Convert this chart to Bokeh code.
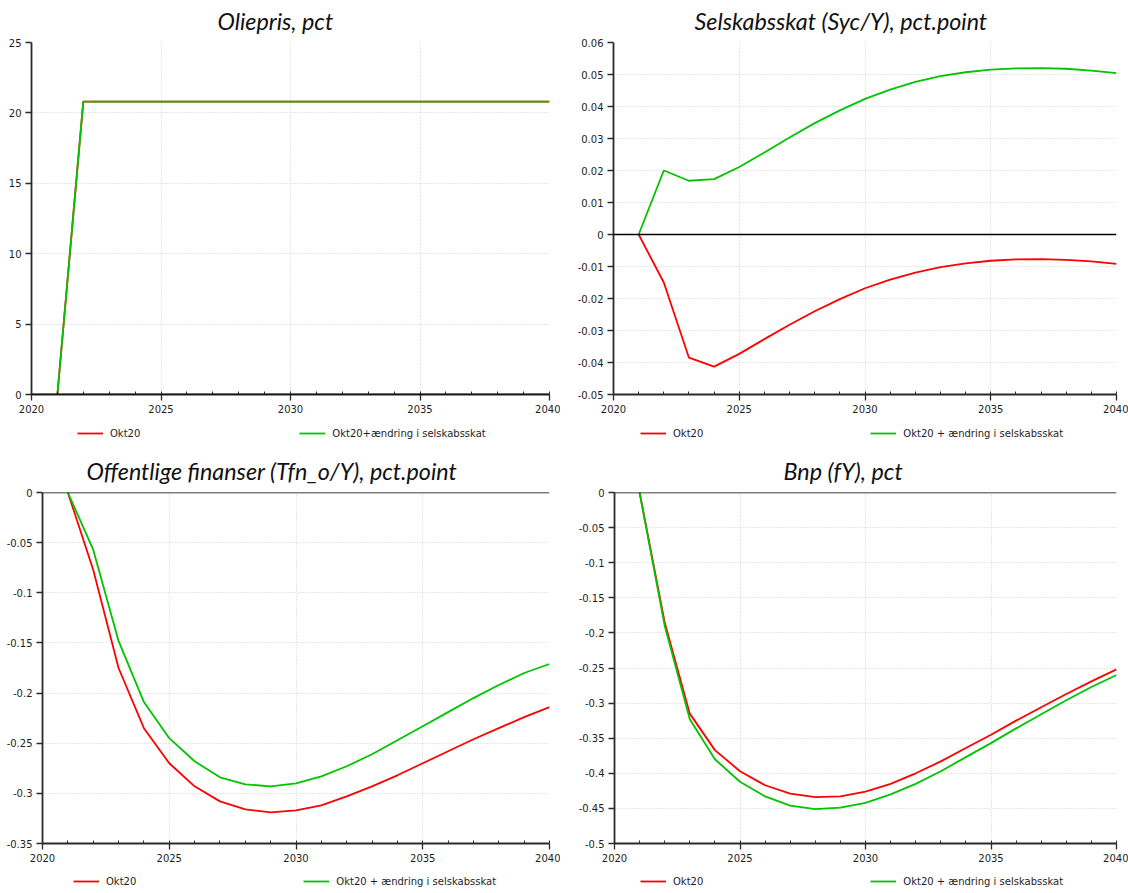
from bokeh.plotting import figure
from bokeh.layouts import column, row
from bokeh.models import FixedTicker, Span, Legend, LegendItem, CustomJSTickFormatter, Range1d
from bokeh.embed import file_html
from bokeh.resources import INLINE

years = [2021, 2022, 2023, 2024, 2025, 2026, 2027, 2028, 2029, 2030,
         2031, 2032, 2033, 2034, 2035, 2036, 2037, 2038, 2039, 2040]

# Oliepris, pct
oil_okt20 = [0, 20.8, 20.8, 20.8, 20.8, 20.8, 20.8, 20.8, 20.8, 20.8,
             20.8, 20.8, 20.8, 20.8, 20.8, 20.8, 20.8, 20.8, 20.8, 20.8]
oil_alt = [0, 20.8, 20.8, 20.8, 20.8, 20.8, 20.8, 20.8, 20.8, 20.8,
           20.8, 20.8, 20.8, 20.8, 20.8, 20.8, 20.8, 20.8, 20.8, 20.8]

# Selskabsskat (Syc/Y), pct.point
syc_okt20 = [0, -0.015, -0.0385, -0.0413, -0.0373, -0.0327, -0.0282, -0.0240, -0.0202, -0.0168,
             -0.0141, -0.0119, -0.0102, -0.0090, -0.0082, -0.0078, -0.0077, -0.0079, -0.0084, -0.0092]
syc_alt = [0, 0.0200, 0.0168, 0.0173, 0.0211, 0.0256, 0.0303, 0.0348, 0.0388, 0.0424,
           0.0453, 0.0477, 0.0495, 0.0507, 0.0515, 0.0519, 0.0520, 0.0518, 0.0512, 0.0504]

# Offentlige finanser (Tfn_o/Y), pct.point
tfn_okt20 = [0, -0.077, -0.175, -0.235, -0.270, -0.293, -0.308, -0.316, -0.319, -0.317,
             -0.312, -0.303, -0.293, -0.282, -0.270, -0.258, -0.246, -0.235, -0.224, -0.214]
tfn_alt = [0, -0.057, -0.148, -0.209, -0.245, -0.268, -0.284, -0.291, -0.293, -0.290,
           -0.283, -0.273, -0.261, -0.247, -0.233, -0.219, -0.205, -0.192, -0.180, -0.171]

# Bnp (fY), pct
bnp_okt20 = [0, -0.185, -0.315, -0.367, -0.397, -0.417, -0.429, -0.434, -0.433, -0.426,
             -0.415, -0.400, -0.383, -0.364, -0.345, -0.325, -0.306, -0.287, -0.269, -0.252]
bnp_alt = [0, -0.190, -0.323, -0.380, -0.412, -0.433, -0.446, -0.451, -0.449, -0.442,
           -0.430, -0.415, -0.397, -0.377, -0.357, -0.336, -0.316, -0.296, -0.277, -0.260]

x_major = [2020, 2025, 2030, 2035, 2040]
x_minor = [2020, 2021, 2022, 2023, 2024, 2025, 2026, 2027, 2028, 2029, 2030,
           2031, 2032, 2033, 2034, 2035, 2036, 2037, 2038, 2039, 2040]

y_oil = [0, 5, 10, 15, 20, 25]
y_syc = [-0.05, -0.04, -0.03, -0.02, -0.01, 0, 0.01, 0.02, 0.03, 0.04, 0.05, 0.06]
y_tfn = [-0.35, -0.3, -0.25, -0.2, -0.15, -0.1, -0.05, 0]
y_bnp = [-0.5, -0.45, -0.4, -0.35, -0.3, -0.25, -0.2, -0.15, -0.1, -0.05, 0]

RED = "#ff0000"
GREEN = "#00c400"
TICK_FONT = "DejaVu Sans"


def panel(title, red, green, yticks, width, left, top, title_x):
    p = figure(width=width, height=420, output_backend="svg", toolbar_location=None,
               x_range=Range1d(2020, 2040), y_range=Range1d(yticks[0], yticks[-1]),
               min_border_left=left, min_border_right=width - (549 if width < 565 else 556),
               min_border_top=top, min_border_bottom=26)
    p.title.text = title
    p.title.text_font = "Lato"
    p.title.text_font_style = "italic"
    p.title.text_font_size = "23.3px"
    p.title.text_color = "#111111"
    p.title.align = "left"
    p.title.vertical_align = "top"
    p.title.offset = title_x
    p.title.standoff = 12
    p.outline_line_color = None
    p.background_fill_color = "white"
    p.border_fill_color = "white"

    p.xaxis.ticker = FixedTicker(ticks=x_major, minor_ticks=x_minor)
    p.yaxis.ticker = FixedTicker(ticks=yticks)
    p.yaxis.formatter = CustomJSTickFormatter(code="return String(Number(tick.toFixed(4)));")
    for ax in (p.xaxis, p.yaxis):
        ax.axis_line_color = "#2a2a2a"
        ax.axis_line_width = 1.8
        ax.major_tick_line_color = "#2a2a2a"
        ax.major_tick_line_width = 1.3
        ax.major_tick_out = 6
        ax.major_tick_in = 0
        ax.major_label_text_font = TICK_FONT
        ax.major_label_text_font_size = "10px"
        ax.major_label_text_color = "#1e1e1e"
        ax.major_label_standoff = 4
    p.xaxis.minor_tick_line_color = "#2a2a2a"
    p.xaxis.minor_tick_in = 3
    p.xaxis.minor_tick_out = 0
    p.yaxis.minor_tick_line_color = None
    p.grid.grid_line_color = "#cfcfcf"
    p.grid.grid_line_dash = "1 2"
    p.grid.grid_line_width = 1

    p.add_layout(Span(location=0, dimension="width", line_color="black", line_width=1.5))

    p.line(years, red, line_color=RED, line_width=1.8)
    p.line(years, green, line_color=GREEN, line_width=1.8)
    return p


def legend_strip(width, height, red, green, green_label, x0, spacing, y0):
    # same series drawn off-range so that only the legend shows in this strip
    lf = figure(width=width, height=height, output_backend="svg", toolbar_location=None,
                x_range=Range1d(0, 1), y_range=Range1d(0, 1),
                x_axis_location=None, y_axis_location=None, min_border=0)
    lf.outline_line_color = None
    lf.grid.visible = False
    lf.background_fill_color = "white"
    lf.border_fill_color = "white"
    r1 = lf.line(years, red, line_color=RED, line_width=1.8)
    r2 = lf.line(years, green, line_color=GREEN, line_width=1.8)
    legend = Legend(items=[LegendItem(label="Okt20", renderers=[r1]),
                           LegendItem(label=green_label, renderers=[r2])],
                    orientation="horizontal", location=(x0, y0),
                    spacing=spacing, padding=0, margin=0,
                    border_line_color=None, background_fill_alpha=0,
                    glyph_width=26, glyph_height=14, label_standoff=7,
                    label_text_font=TICK_FONT, label_text_font_size="10px",
                    label_text_color="#1e1e1e", label_height=14)
    lf.add_layout(legend, "center")
    return lf


p1 = panel("Oliepris, pct", oil_okt20, oil_alt, y_oil, 560, 31, 42, 186)
p2 = panel("Selskabsskat (Syc/Y), pct.point", syc_okt20, syc_alt, y_syc, 568, 53, 42, 81)
p3 = panel("Offentlige finanser (Tfn_o/Y), pct.point", tfn_okt20, tfn_alt, y_tfn, 560, 42, 43, 44)
p4 = panel("Bnp (fY), pct", bnp_okt20, bnp_alt, y_bnp, 568, 54, 43, 169)

l1 = legend_strip(560, 29, oil_okt20, oil_alt, "Okt20+ændring i selskabsskat", 77, 159, 9)
l2 = legend_strip(568, 29, syc_okt20, syc_alt, "Okt20 + ændring i selskabsskat", 80, 167, 9)
l3 = legend_strip(560, 24, tfn_okt20, tfn_alt, "Okt20 + ændring i selskabsskat", 73, 167, 5)
l4 = legend_strip(568, 24, bnp_okt20, bnp_alt, "Okt20 + ændring i selskabsskat", 80, 167, 5)

layout = column(row(p1, p2), row(l1, l2), row(p3, p4), row(l3, l4))

open("out.html", "w").write(file_html(layout, INLINE))
